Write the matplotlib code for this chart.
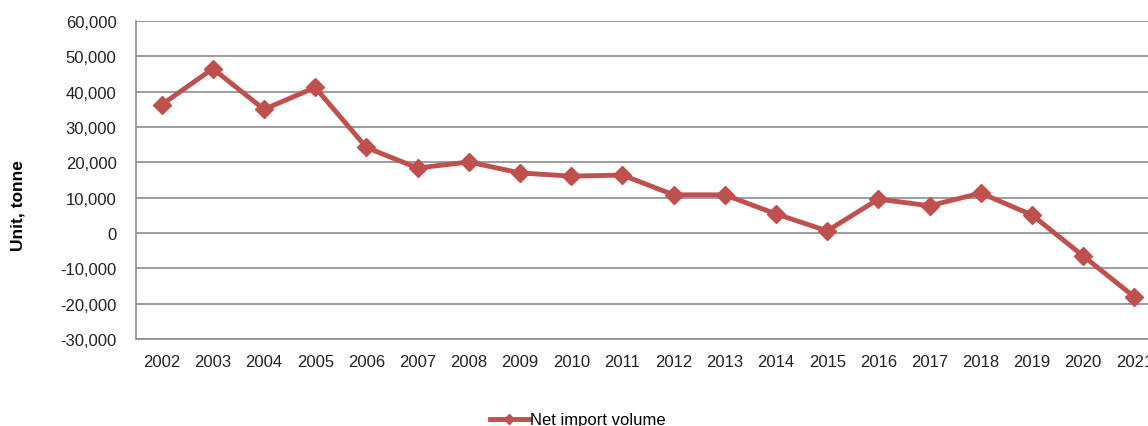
import matplotlib
matplotlib.use('Agg')
import matplotlib.pyplot as plt
from matplotlib.ticker import FuncFormatter

plt.rcParams['font.family'] = ['Liberation Sans', 'DejaVu Sans']

years = [str(y) for y in range(2002, 2022)]
net_import = [36300, 46500, 35000, 41200, 24200, 18400, 20100, 17000, 16100, 16400,
              10800, 10800, 5400, 600, 9600, 7700, 11300, 5100, -6500, -18100]

fig = plt.figure(figsize=(11.48, 4.27), dpi=100)
# plot area runs past the right edge of the image, as in the original
ax = fig.add_axes([136 / 1148, 1 - 340 / 427, 1024 / 1148, 318 / 427])

color = '#C0504D'
x = range(len(years))
line, = ax.plot(x, net_import, color=color, lw=3.5, marker='D', markersize=9.5,
                label='Net import volume')

ax.set_xlim(-0.5, len(years) - 0.5)
ax.set_ylim(-30000, 60000)
ax.set_yticks(range(-30000, 60001, 10000))
ax.yaxis.set_major_formatter(FuncFormatter(lambda v, p: f'{int(v):,}'))
ax.set_xticks(list(x))
ax.set_xticklabels(years)
ax.tick_params(length=0, labelsize=12, colors='#222222', pad=11)
ax.tick_params(axis='y', pad=14)

ax.grid(axis='y', color='#8c8c8c', lw=1.2)
ax.set_axisbelow(True)
for s in ['top', 'right']:
    ax.spines[s].set_visible(False)
for s in ['left', 'bottom']:
    ax.spines[s].set_color('#8c8c8c')
    ax.spines[s].set_linewidth(1.2)

fig.text(18 / 1148, 1 - 206 / 427, 'Unit, tonne', rotation=90, ha='center', va='center',
         fontsize=12.5, fontweight='bold')

fig.legend(handles=[line], loc='center', bbox_to_anchor=(578 / 1148, 1 - 421 / 427),
           frameon=False, fontsize=12, handlelength=2.3, handletextpad=0.1,
           markerscale=0.55)

fig.savefig('out.png', dpi=100)
